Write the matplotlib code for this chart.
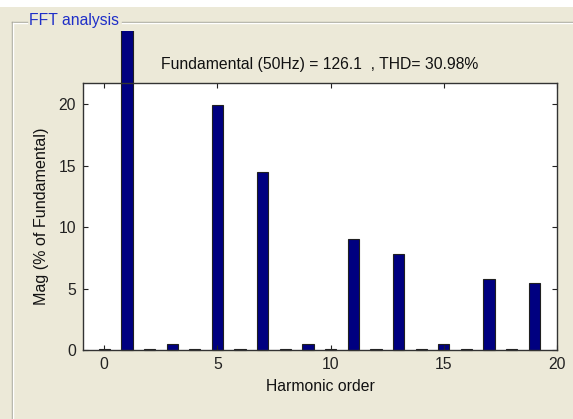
import matplotlib
matplotlib.use("Agg")
import matplotlib.pyplot as plt
from matplotlib.lines import Line2D
from matplotlib.patches import Rectangle
from matplotlib.transforms import Bbox, TransformedBbox

plt.rcParams['font.family'] = ['Liberation Sans', 'DejaVu Sans']

harmonics = list(range(0, 20))
magnitudes = [0.1, 100, 0.1, 0.5, 0.1, 19.9, 0.1, 14.5, 0.1, 0.5,
              0.1, 9.0, 0.1, 7.85, 0.1, 0.5, 0.1, 5.75, 0.1, 5.42]
xticks = [0, 5, 10, 15, 20]
yticks = [0, 5, 10, 15, 20]
title = "Fundamental (50Hz) = 126.1  , THD= 30.98%"
panel_title = "FFT analysis"

W, H = 573, 419
BG = '#ECE9D8'
fig = plt.figure(figsize=(W / 100, H / 100), dpi=100, facecolor=BG)

def fx(px):
    return px / W

def fy(py):
    return 1 - py / H

# white strip at top
fig.add_artist(Rectangle((0, fy(7)), 1, 7 / H, transform=fig.transFigure,
                         facecolor='white', edgecolor='none'))

# group box lines
gcol = '#A8A89C'
fig.add_artist(Line2D([fx(12), fx(27)], [fy(22), fy(22)], transform=fig.transFigure, color=gcol, lw=1))
fig.add_artist(Line2D([fx(122), fx(573)], [fy(22), fy(22)], transform=fig.transFigure, color=gcol, lw=1))
fig.add_artist(Line2D([fx(13), fx(27)], [fy(23), fy(23)], transform=fig.transFigure, color='white', lw=1))
fig.add_artist(Line2D([fx(122), fx(573)], [fy(23), fy(23)], transform=fig.transFigure, color='white', lw=1))
fig.add_artist(Line2D([fx(12), fx(12)], [fy(22), 0], transform=fig.transFigure, color=gcol, lw=1))
fig.add_artist(Line2D([fx(13), fx(13)], [fy(23), 0], transform=fig.transFigure, color='white', lw=1))
fig.text(fx(29), fy(20), panel_title, color='#1f2fc8', fontsize=11.3,
         ha='left', va='center')

ax = fig.add_axes([fx(83), fy(350), fx(557 - 83), (350 - 82.7) / H])
ax.set_facecolor('white')
bars = ax.bar(harmonics, magnitudes, width=0.5, color='#000080',
              edgecolor='#202020', linewidth=0.8)
clip = TransformedBbox(Bbox([[0, 0], [1, fy(31)]]), fig.transFigure)
for b in bars:
    b.set_clip_box(clip)

ax.set_xlim(-0.94, 20)
ax.set_ylim(0, 21.75)
ax.set_xticks(xticks)
ax.set_yticks(yticks)
ax.tick_params(direction='in', top=True, right=True, length=3.5, width=0.8,
               labelsize=11.3, colors='#222222', pad=5)
for s in ax.spines.values():
    s.set_color('#333333')
    s.set_linewidth(1.0)

ax.set_title(title, fontsize=11.3, color='#111111', pad=10)
ax.set_xlabel("Harmonic order", fontsize=11.3, color='#111111', labelpad=5)
ax.set_ylabel("Mag (% of Fundamental)", fontsize=11.6, color='#111111', labelpad=7)

fig.savefig("out.png", dpi=100, facecolor=BG)
